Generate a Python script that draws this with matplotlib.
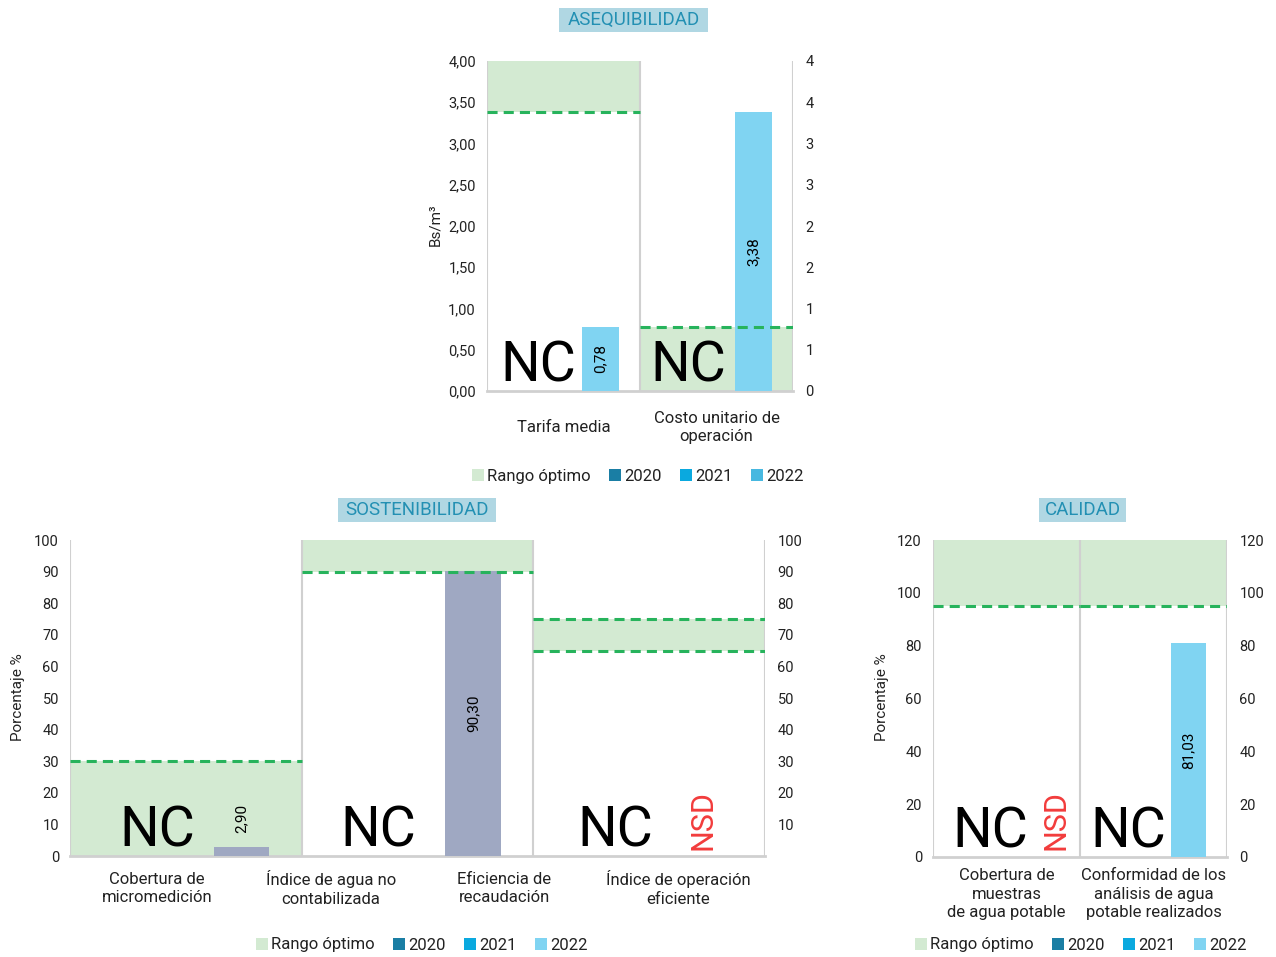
import matplotlib
matplotlib.use("Agg")
import matplotlib.pyplot as plt
from matplotlib.patches import Patch, Rectangle
from matplotlib.ticker import FuncFormatter
import numpy as np

plt.rcParams['font.family'] = ['Roboto', 'DejaVu Sans']

# ---- data ----
years = ["2020", "2021", "2022"]

aseq_labels = ["Tarifa media", "Costo unitario de\noperación"]
aseq_opt_low = [3.38, 0.00]
aseq_opt_high = [4.00, 0.77]
aseq_2022 = [0.78, 3.38]

sost_labels = ["Cobertura de\nmicromedición", "Índice de agua no\ncontabilizada",
               "Eficiencia de\nrecaudación", "Índice de operación\neficiente"]
sost_opt_low = [0, 90, 65]
sost_opt_high = [30, 100, 75]
sost_2022 = [2.90, 90.30, None]

cal_labels = ["Cobertura de\nmuestras\nde agua potable",
              "Conformidad de los\nanálisis de agua\npotable realizados"]
cal_opt_low = [95, 95]
cal_opt_high = [120, 120]
cal_2022 = [None, 81.03]

# ---- style ----
GREEN = "#d3ead2"
DASH = "#27b35c"
GRID = "#d0d0d0"
C2020 = "#1a7ea4"
C2021 = "#0aa9df"
TITLE_BG = "#b0d7e3"
TITLE_FG = "#2390b3"
RED = "#f23c3c"
TXT = "#222222"
W = 0.24  # bar width in category units

W_PX, H_PX = 1276, 957
fig = plt.figure(figsize=(W_PX / 100, H_PX / 100), dpi=100)


def px_rect(x0, y0, x1, y1):
    return [x0 / W_PX, 1 - y1 / H_PX, (x1 - x0) / W_PX, (y1 - y0) / H_PX]


def comma(v, nd=2):
    return f"{v:.{nd}f}".replace(".", ",")


def panel(rect, low, high, vals, ymax, lticks, rticks, lfmt, rfmt, bar_color):
    ax = fig.add_axes(rect)
    n = len(low)
    xc = np.arange(n) + 0.5
    ax.bar(xc, np.subtract(high, low), bottom=low, width=1.0, color=GREEN,
           linewidth=0, zorder=1)
    for i, (lo, hi) in enumerate(zip(low, high)):
        for v in (lo, hi):
            if 0 < v < ymax:
                ax.plot([i, i + 1], [v, v], color=DASH, lw=2.2,
                        dashes=(3.3, 2.0), zorder=4)
    ax.vlines(np.arange(n + 1), 0, ymax, color=GRID, lw=1.5, zorder=2)
    for xi, v in zip(xc + W, vals):
        if v is None:
            continue
        ax.bar(xi, v, width=W, color=bar_color, linewidth=0, zorder=3)
        if v < 0.1 * ymax:
            ax.text(xi, v + 0.045 * ymax, comma(v), rotation=90, ha="center",
                    va="bottom", fontsize=11, zorder=5)
        else:
            ax.text(xi, v / 2, comma(v), rotation=90, ha="center",
                    va="center", fontsize=11, zorder=5)
    ax.set_xlim(0, n)
    ax.set_ylim(0, ymax)
    ax.set_xticks([])
    ax.set_yticks(lticks)
    ax.yaxis.set_major_formatter(FuncFormatter(lfmt))
    ax.tick_params(axis="y", length=0, pad=8, labelsize=10.5, labelcolor=TXT)
    for s in ("top", "left", "right"):
        ax.spines[s].set_visible(False)
    ax.spines["bottom"].set_color(GRID)
    ax.spines["bottom"].set_linewidth(2)

    ax2 = ax.twinx()
    ax2.set_ylim(0, ymax)
    ax2.set_yticks(rticks)
    ax2.yaxis.set_major_formatter(FuncFormatter(rfmt))
    ax2.tick_params(axis="y", length=0, pad=9, labelsize=10.5, labelcolor=TXT)
    for s in ax2.spines.values():
        s.set_visible(False)
    return ax


def marks(ax, nc_x, nsd_x, nsd_y):
    tr = ax.get_xaxis_transform()
    for x in nc_x:
        ax.text(x, 0.03, "NC", transform=tr, fontsize=40, ha="center",
                va="baseline", color="black", zorder=6)
    for x in nsd_x:
        ax.text(x, nsd_y, "NSD", transform=tr, fontsize=22, ha="center",
                va="center", rotation=90, color=RED, zorder=6)


def cat_labels(ax, xs, labels, y):
    tr = ax.get_xaxis_transform()
    for x, lab in zip(xs, labels):
        ax.text(x, y, lab, transform=tr, ha="center", va="center",
                fontsize=12, linespacing=1.28, color=TXT)


def title(text, x0, y0, x1, y1):
    fig.add_artist(Rectangle((x0 / W_PX, 1 - y1 / H_PX), (x1 - x0) / W_PX,
                             (y1 - y0) / H_PX, transform=fig.transFigure,
                             facecolor=TITLE_BG, edgecolor="none"))
    fig.text((x0 + x1) / 2 / W_PX, 1 - (y0 + y1) / 2 / H_PX, text,
             ha="center", va="center", fontsize=13.5, color=TITLE_FG)


def legend(x, y, c2022):
    handles = [Patch(facecolor=GREEN), Patch(facecolor=C2020),
               Patch(facecolor=C2021), Patch(facecolor=c2022)]
    fig.legend(handles, ["Rango óptimo"] + years, loc="center",
               bbox_to_anchor=(x / W_PX, 1 - y / H_PX), ncol=4, frameon=False,
               handlelength=0.7, handleheight=0.7, handletextpad=0.2,
               columnspacing=1.1, fontsize=12, labelcolor=TXT)


# ---- ASEQUIBILIDAD ----
ax_a = panel(px_rect(487, 61, 793, 391), aseq_opt_low, aseq_opt_high, aseq_2022,
             4.0, np.arange(0, 4.01, 0.5), np.arange(0, 4.01, 0.5),
             lambda v, p: comma(v), lambda v, p: str(int(np.floor(v + 0.5))),
             "#80d4f2")
marks(ax_a, [0.333, 1.314], [], 0)
cat_labels(ax_a, np.arange(len(aseq_labels)) + 0.5, aseq_labels, -0.11)
title("ASEQUIBILIDAD", 559, 8, 708, 32)
fig.text(435 / W_PX, 1 - 225 / H_PX, "Bs/m³", rotation=90, ha="center",
         va="center", fontsize=11, color=TXT)
legend(638, 476, "#47b8e0")

# ---- SOSTENIBILIDAD ----
ax_s = panel(px_rect(70, 540, 765, 856), sost_opt_low, sost_opt_high, sost_2022,
             100, np.arange(0, 101, 10), np.arange(10, 101, 10),
             lambda v, p: f"{v:.0f}", lambda v, p: f"{v:.0f}", "#9fa8c2")
marks(ax_s, [0.375, 1.33, 2.352], [2.732], 0.114)
n_s = len(sost_labels)
cat_labels(ax_s, (np.arange(n_s) + 0.5) * len(sost_opt_low) / n_s, sost_labels, -0.103)
title("SOSTENIBILIDAD", 338, 498, 496, 522)
fig.text(18 / W_PX, 1 - 697 / H_PX, "Porcentaje %", rotation=90, ha="center",
         va="center", fontsize=11, color=TXT)
legend(422, 945, "#80d4f2")

# ---- CALIDAD ----
ax_c = panel(px_rect(933, 540, 1227, 857), cal_opt_low, cal_opt_high, cal_2022,
             120, np.arange(0, 121, 20), np.arange(0, 121, 20),
             lambda v, p: f"{v:.0f}", lambda v, p: f"{v:.0f}", "#80d4f2")
marks(ax_c, [0.388, 1.327], [0.837], 0.117)
cat_labels(ax_c, np.arange(len(cal_labels)) + 0.5, cal_labels, -0.117)
title("CALIDAD", 1039, 498, 1126, 522)
fig.text(882 / W_PX, 1 - 697 / H_PX, "Porcentaje %", rotation=90, ha="center",
         va="center", fontsize=11, color=TXT)
legend(1081, 945, "#80d4f2")

fig.savefig("out.png", dpi=100)
